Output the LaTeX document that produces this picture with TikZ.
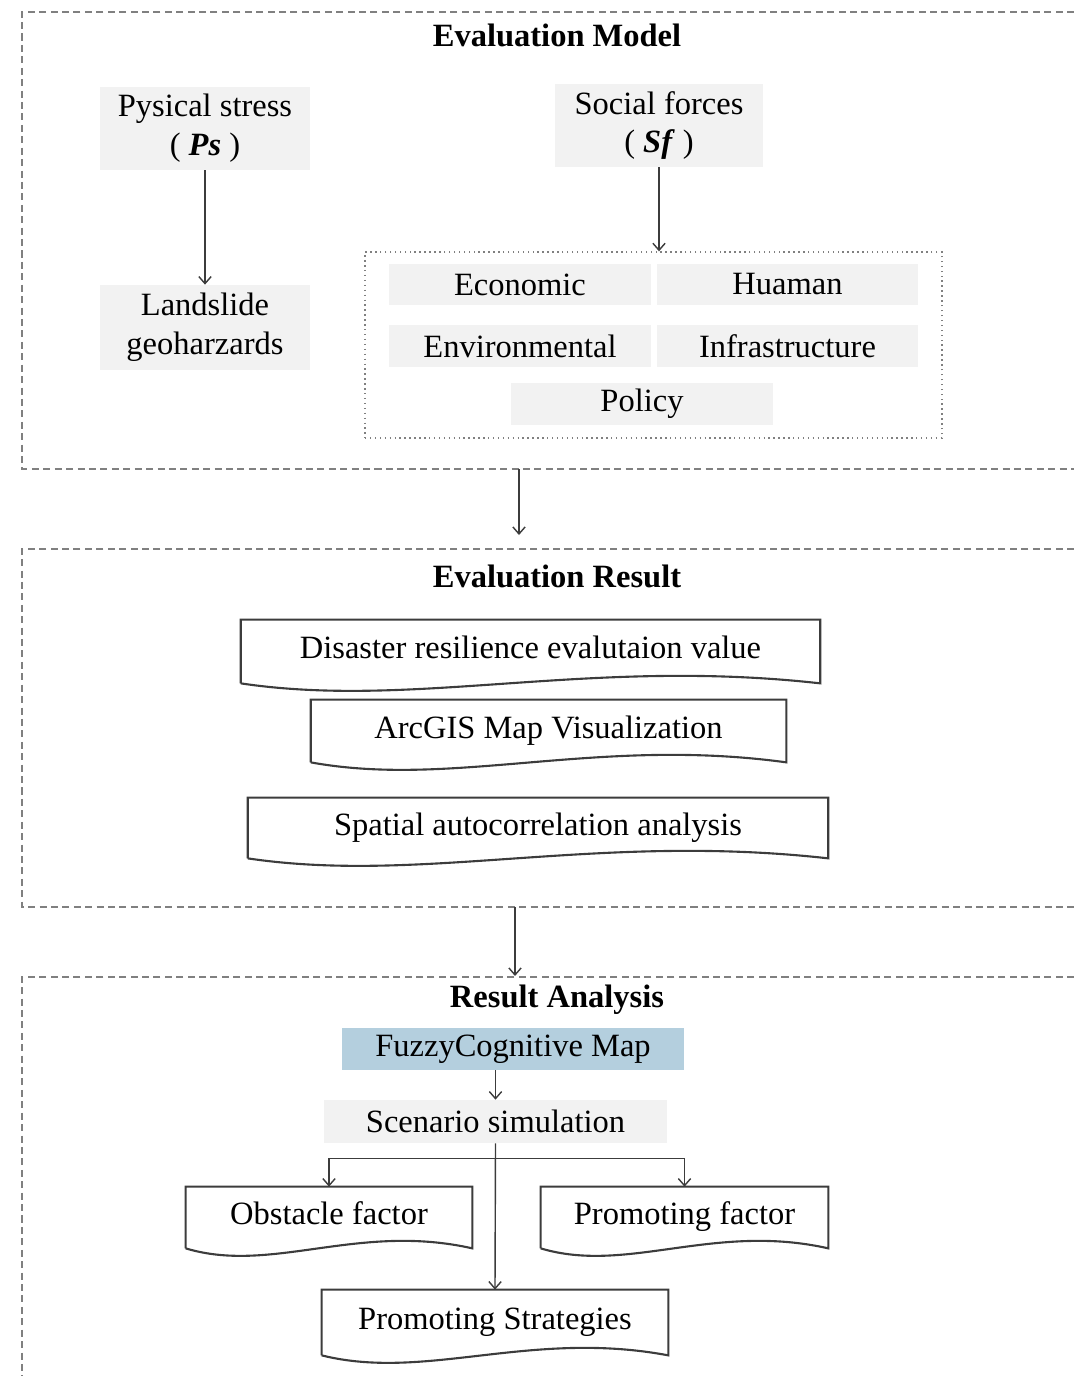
\documentclass[tikz,border=0pt]{standalone}
\usepackage{fontspec}
\setmainfont{Liberation Serif}
\usetikzlibrary{arrows.meta,calc,positioning}
\definecolor{boxgray}{RGB}{242,242,242}
\definecolor{fcmblue}{RGB}{180,207,222}
\definecolor{lineg}{RGB}{60,60,60}
\tikzset{
  graybox/.style={fill=boxgray, align=center, inner sep=0pt},
  docbox/.style={align=center, inner sep=0pt, text height=0.4cm, text depth=0.12cm},
  docline/.style={draw=lineg, line width=1.2pt},
  frame/.style={draw=gray, line width=0.6pt, dash pattern=on 4pt off 2.5pt},
  arr/.style={draw=lineg, line width=0.8pt, -{Straight Barb[length=4pt,width=7pt]}},
  title/.style={font=\fontsize{18.5}{22}\selectfont\bfseries}
}
\begin{document}
\begin{tikzpicture}[x=0.02cm, y=-0.02cm, font=\fontsize{18.5}{22}\selectfont]
  \useasboundingbox (0,0) rectangle (1074,1376);

  % Dashed frames
  \draw[frame] (1074,12) -- (22,12) -- (22,469) -- (1074,469);
  \draw[frame] (1074,549) -- (22,549) -- (22,907) -- (1074,907);
  \draw[frame] (1074,977) -- (22,977) -- (22,1376);

  % Evaluation model
  \node[title] (emt) at (557,35) {Evaluation Model};
  \node[graybox, minimum width=4.2cm, minimum height=1.66cm] (ps) at (205,128.5)
    {Pysical stress\\( \textbf{\textit{Ps}} )};
  \node[graybox, minimum width=4.2cm, minimum height=1.7cm] (lg) at (205,327.5)
    {Landslide\\geoharzards};
  \node[graybox, minimum width=4.16cm, minimum height=1.66cm] (sf) at (659,125.5)
    {Social forces\\( \textbf{\textit{Sf}} )};
  \node[draw=gray, dotted, line width=0.8pt, minimum width=11.54cm, minimum height=3.72cm] (sfbox) at (653.5,345) {};
  \node[graybox, minimum width=5.24cm, minimum height=0.82cm] (eco) at (520,284.5) {Economic};
  \node[graybox, minimum width=5.22cm, minimum height=0.82cm] (hum) at (787.5,284.5) {Huaman};
  \node[graybox, minimum width=5.24cm, minimum height=0.84cm] (env) at (520,346) {Environmental};
  \node[graybox, minimum width=5.22cm, minimum height=0.84cm] (inf) at (787.5,346) {Infrastructure};
  \node[graybox, minimum width=5.24cm, minimum height=0.84cm] (pol) at (642,404) {Policy};

  \draw[arr] (ps) -- (lg);
  \draw[arr] (sf) -- (sf.south |- sfbox.north);

  \coordinate (embot) at (519,469);
  \coordinate (ertop) at (519,535);
  \draw[arr] (embot) -- (ertop);

  % Evaluation result
  \node[title] (ert) at (557,576) {Evaluation Result};
  \node[docbox, minimum width=11.58cm, minimum height=1.26cm] (drv) at (530.5,651.5)
    {Disaster resilience evalutaion value};
  \node[docbox, minimum width=9.5cm, minimum height=1.24cm] (arc) at (548.5,731)
    {ArcGIS Map Visualization};
  \node[docbox, minimum width=11.6cm, minimum height=1.2cm] (sac) at (538,828)
    {Spatial autocorrelation analysis};

  \coordinate (erbot) at (515,907);
  \coordinate (ratop) at (515,976);
  \draw[arr] (erbot) -- (ratop);

  % Result analysis
  \node[title] (rat) at (557,1000) {Result Analysis};
  \node[fill=fcmblue, inner sep=0pt, minimum width=6.84cm, minimum height=0.84cm] (fcm) at (513,1049)
    {FuzzyCognitive Map};
  \node[graybox, minimum width=6.86cm, minimum height=0.86cm] (scn) at (495.5,1121.5)
    {Scenario simulation};
  \node[docbox, minimum width=5.72cm, minimum height=1.22cm] (obs) at (329,1217.5)
    {Obstacle factor};
  \node[docbox, minimum width=5.74cm, minimum height=1.22cm] (prf) at (684.5,1217.5)
    {Promoting factor};
  \node[docbox, minimum width=6.92cm, minimum height=1.3cm] (pst) at (495,1322.5)
    {Promoting Strategies};

  % Document outlines
  \foreach \n in {drv,arc,sac,obs,prf,pst}
    \draw[docline] (\n.south west) -- (\n.north west) -- (\n.north east) -- (\n.south east)
      .. controls ($(\n.south west)!0.6!(\n.south east)+(0,-26)$)
             and ($(\n.south west)!0.3!(\n.south east)+(0,26)$) .. (\n.south west);

  \draw[arr] (scn.north |- fcm.south) -- (scn.north);
  \coordinate (br) at ($(scn.south)+(0,15)$);
  \draw[arr] (br) -| (obs.north);
  \draw[arr] (br) -| (prf.north);
  \draw[arr] (scn.south) -- (pst.north);
\end{tikzpicture}
\end{document}
